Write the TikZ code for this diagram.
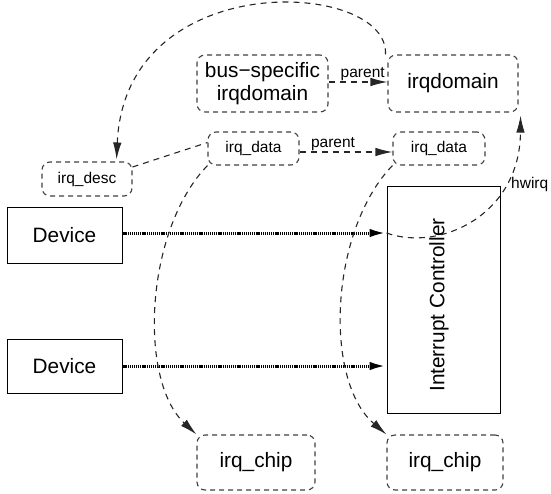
\documentclass[tikz,border=0pt]{standalone}
\usepackage{fontspec}
\setmainfont{Liberation Sans}
\usetikzlibrary{arrows.meta}
\begin{document}
\begin{tikzpicture}[x=1pt,y=-1pt,
  solidbox/.style={draw=black, line width=1pt, inner sep=0pt, align=center},
  dashbox/.style={draw=black!75, line width=1.1pt, dash pattern=on 5pt off 4pt,
    rounded corners=8pt, inner sep=0pt, align=center},
  bigtxt/.style={font=\fontsize{20.8}{23}\selectfont},
  smalltxt/.style={font=\fontsize{15.5}{18}\selectfont},
  dashlink/.style={draw=black!85, line width=1.1pt, dash pattern=on 6pt off 5pt},
  tip/.style={-{Latex[length=17pt,width=8.5pt]}},
  dotlink/.style={line width=3pt, dash pattern=on 1.1pt off 0.8pt,
    -{Latex[length=17pt,width=8.5pt]}}
]
\useasboundingbox (0,0) rectangle (551,493);

% hardware
\node[solidbox, bigtxt, minimum width=115pt, minimum height=56pt] (dev1) at (64.5,235) {Device};
\node[solidbox, bigtxt, minimum width=115pt, minimum height=54pt] (dev2) at (64.5,366) {Device};
\node[solidbox, minimum width=113pt, minimum height=227pt] (ic) at (443.5,299.5) {};
\node[bigtxt, rotate=90] (ictxt) at (439,305) {Interrupt Controller};

% software structures
\node[dashbox, bigtxt, minimum width=131pt, minimum height=57pt] (busdom) at (262.5,83.5) {bus\textminus specific\\irqdomain};
\node[dashbox, bigtxt, minimum width=130pt, minimum height=57pt] (dom) at (453,83.5) {irqdomain};
\node[dashbox, smalltxt, minimum width=90pt, minimum height=34pt] (desc) at (87,179) {irq\_desc};
\node[dashbox, smalltxt, minimum width=91pt, minimum height=33pt] (data1) at (253.5,148.5) {irq\_data};
\node[dashbox, smalltxt, minimum width=92pt, minimum height=33pt] (data2) at (439,148.5) {irq\_data};
\node[dashbox, bigtxt, minimum width=118pt, minimum height=55pt] (chip1) at (256,462.5) {irq\_chip};
\node[dashbox, bigtxt, minimum width=116pt, minimum height=55pt] (chip2) at (445,462.5) {irq\_chip};

% interrupt lines
\draw[dotlink] ([yshift=2pt]dev1.east) -- ([yshift=2pt]dev1.east -| ic.west);
\draw[dotlink] (dev2.east) -- (dev2.east -| ic.west);

% parent links
\draw[dashlink, tip] ([yshift=1.5pt]busdom.east) -- ([yshift=1.5pt]dom.west)
  node[pos=0.58, above=1pt, smalltxt, inner sep=0pt] (p1) {parent};
\draw[dashlink, tip] ([yshift=-3.5pt]data1.east) -- ([yshift=-3.5pt]data2.west)
  node[pos=0.36, above=1pt, smalltxt, inner sep=0pt] (p2) {parent};

% descriptor links
\draw[dashlink] ([yshift=12pt]desc.east) -- ([yshift=6pt]data1.west);
\draw[dashlink, tip] ([xshift=-2pt]dom.north west) .. controls (390,-20) and (125,-35) .. ([xshift=-16pt,yshift=2pt]desc.north east);
\draw[dashlink, tip] (data1.south west) .. controls (145,230) and (138,380) .. (chip1.north west);
\draw[dashlink, tip] (data2.south west) .. controls (330,230) and (323,380) .. (chip2.north west);

% hardware irq number
\draw[dashlink, tip] ([yshift=2pt]dev1.east -| ic.west) .. controls (440,252) and (520,215) .. ([xshift=2pt,yshift=-3pt]dom.south east);
\node[smalltxt, anchor=west, inner sep=0pt] (hw) at (511,184) {hwirq};
\end{tikzpicture}
\end{document}
